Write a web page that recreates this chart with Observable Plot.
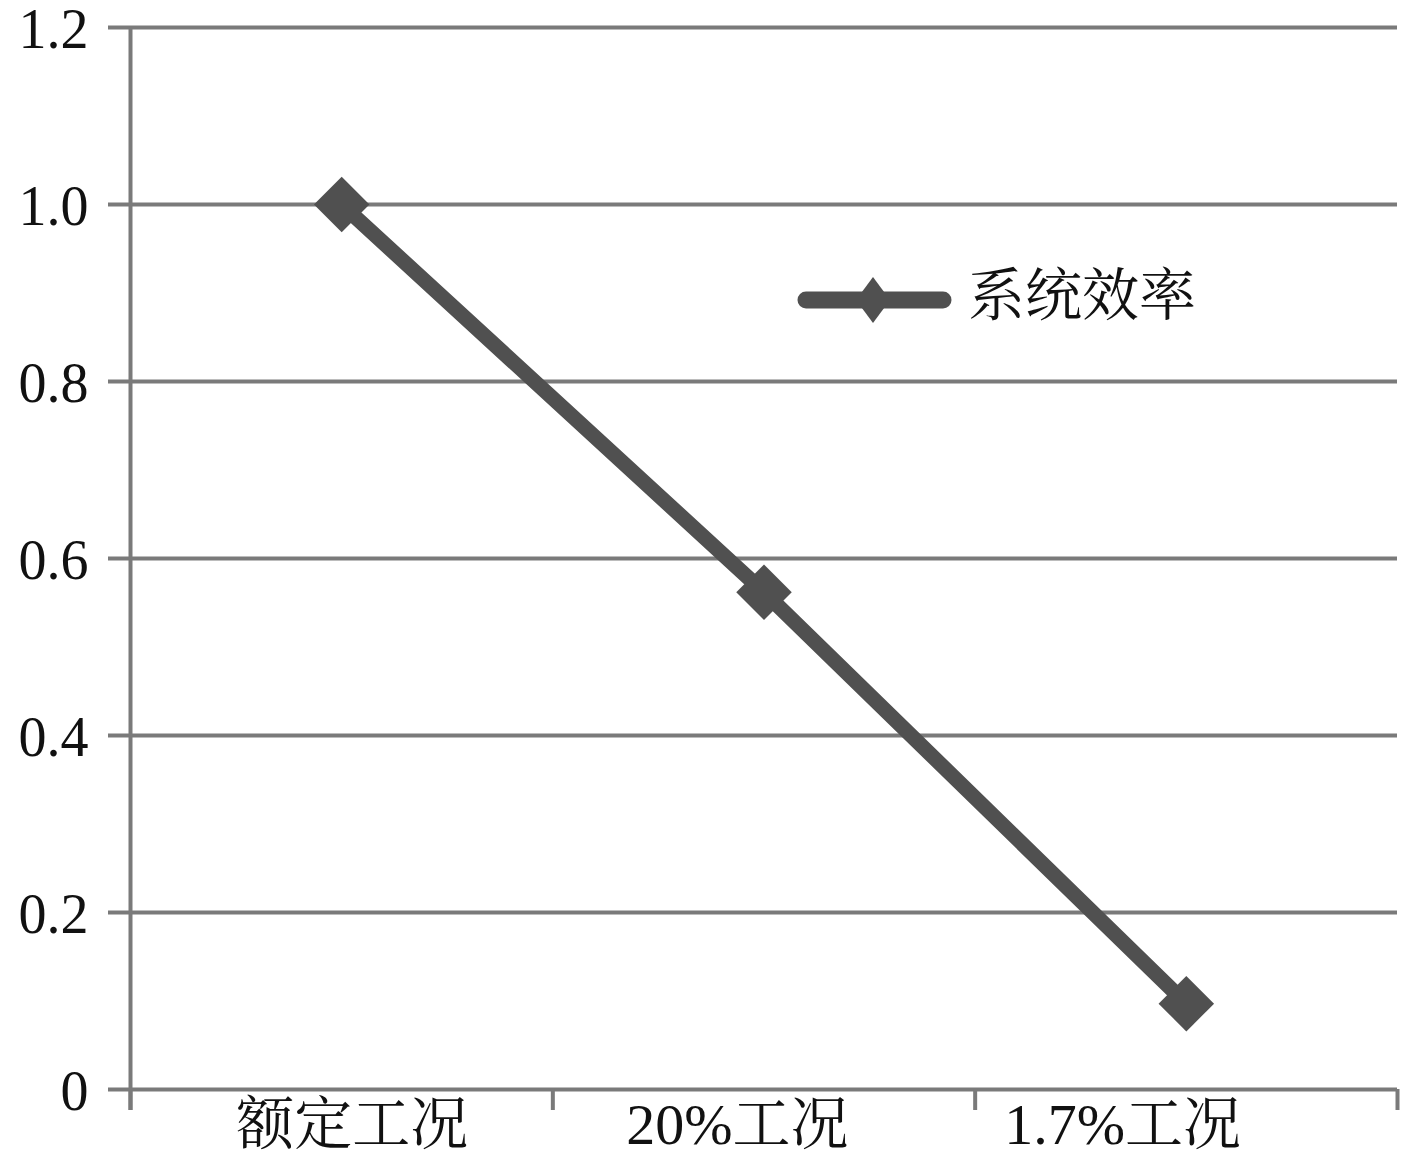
<!DOCTYPE html>
<html><head><meta charset="utf-8">
<script src="https://cdn.jsdelivr.net/npm/d3@7"></script>
<script src="https://cdn.jsdelivr.net/npm/@observablehq/plot@0.6"></script>
<style>
html,body{margin:0;padding:0;background:#fff;}
#wrap{position:relative;width:1417px;height:1162px;}
#legend{position:absolute;left:797px;top:268px;width:420px;height:64px;font-family:"Liberation Serif","Noto Serif CJK SC","Noto Sans CJK SC",serif;font-size:57px;color:#111;}
#legend svg{position:absolute;left:0;top:0;}
#legtext{position:absolute;left:171px;top:-12px;line-height:80px;white-space:nowrap;}
</style>
</head><body>
<div id="wrap"><div id="chart"></div>
<div id="legend"><svg width="171" height="64"><line x1="9" y1="32" x2="146" y2="32" stroke="#505050" stroke-width="17" stroke-linecap="round"/><path d="M76,9 L93,32 L76,55 L59,32 Z" fill="#505050"/></svg><span id="legtext"></span></div>
</div>
<script>
const categories = ["额定工况", "20%工况", "1.7%工况"];
const efficiency = [1.0, 0.562, 0.097];
const yTicks = [0, 0.2, 0.4, 0.6, 0.8, 1.0, 1.2];
const yTickLabels = ["0", "0.2", "0.4", "0.6", "0.8", "1.0", "1.2"];
const seriesName = "系统效率";

document.getElementById("legtext").textContent = seriesName;

const data = categories.map((c, i) => ({idx: i + 0.5, cat: c, v: efficiency[i]}));
const boundaries = d3.range(categories.length + 1);
const gridColor = "#7a7a7a";
const lineColor = "#505050";
// category labels in the reference sit slightly closer together than the bands
const labelX = d => 1.437 + (d.idx - 1.5) * 0.912;

const chart = Plot.plot({
  width: 1417,
  height: 1162,
  marginLeft: 130,
  marginRight: 20,
  marginTop: 27,
  marginBottom: 73,
  style: {fontFamily: '"Liberation Serif","Noto Serif CJK SC","Noto Sans CJK SC",serif', fontSize: "56px", color: "#111", background: "#fff"},
  x: {type: "linear", domain: [0, categories.length], axis: null},
  y: {type: "linear", domain: [0, 1.2], axis: null},
  marks: [
    // horizontal gridlines incl. left tick stub
    Plot.ruleY(yTicks, {y: d => d, x1: () => 0, x2: () => categories.length, stroke: gridColor, strokeWidth: 4, insetLeft: -22}),
    // y-axis line (extends below baseline like a tick)
    Plot.ruleX([0], {x: d => d, y1: () => 1.2, y2: () => 0, stroke: gridColor, strokeWidth: 4, insetBottom: -21}),
    // x tick marks at band boundaries
    Plot.ruleX(boundaries, {x: d => d, y1: () => 0, y2: () => 0, stroke: gridColor, strokeWidth: 4, insetBottom: -21}),
    // y tick labels
    Plot.text(yTicks, {x: () => 0, y: d => d, text: (d, i) => yTickLabels[i], textAnchor: "end", dx: -42, dy: 3, fill: "#111"}),
    // x tick labels
    Plot.text(data, {x: labelX, y: () => 0, text: "cat", lineAnchor: "top", dy: 13, fontSize: 58, fill: "#111"}),
    // series line
    Plot.line(data, {x: "idx", y: "v", stroke: lineColor, strokeWidth: 15, strokeLinejoin: "round"}),
    Plot.dot(data, {x: "idx", y: "v", symbol: "diamond2", r: 25, fill: lineColor, stroke: "none"})
  ]
});
document.getElementById("chart").appendChild(chart);
</script>
</body></html>
